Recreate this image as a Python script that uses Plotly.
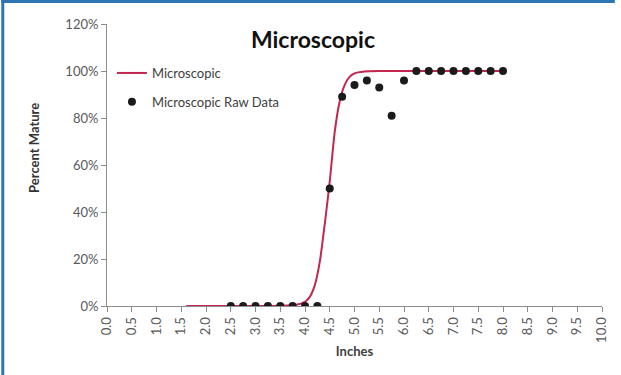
import plotly.graph_objects as go

# Fitted curve
curve_x = [1.6, 2.0, 2.5, 3.0, 3.5, 3.8, 4.0, 4.1, 4.2, 4.3, 4.4, 4.5, 4.6, 4.7, 4.8, 4.9, 5.0, 5.2, 5.5, 6.0, 7.0, 8.0]
curve_y = [0.0, 0.0, 0.0, 0.0, 0.001, 0.004, 0.018, 0.04, 0.09, 0.19, 0.35, 0.53, 0.74, 0.87, 0.94, 0.975, 0.99, 0.998, 1.0, 1.0, 1.0, 1.0]

# Raw data points
raw_x = [2.5, 2.75, 3.0, 3.25, 3.5, 3.75, 4.0, 4.25, 4.5, 4.75, 5.0, 5.25, 5.5, 5.75, 6.0,
         6.25, 6.5, 6.75, 7.0, 7.25, 7.5, 7.75, 8.0]
raw_y = [0, 0, 0, 0, 0, 0, 0, 0, 0.50, 0.89, 0.94, 0.96, 0.93, 0.81, 0.96,
         1.0, 1.0, 1.0, 1.0, 1.0, 1.0, 1.0, 1.0]

x_tickvals = [0.0, 0.5, 1.0, 1.5, 2.0, 2.5, 3.0, 3.5, 4.0, 4.5, 5.0, 5.5, 6.0, 6.5, 7.0, 7.5, 8.0, 8.5, 9.0, 9.5, 10.0]
x_ticktext = ["%.1f" % v for v in x_tickvals]
y_tickvals = [0, 0.2, 0.4, 0.6, 0.8, 1.0, 1.2]
y_ticktext = ["0%", "20%", "40%", "60%", "80%", "100%", "120%"]

FONT = "Lato, 'Open Sans', sans-serif"

fig = go.Figure()
fig.add_trace(go.Scatter(x=curve_x, y=curve_y, mode="lines", name="Microscopic",
                         line=dict(color="#C3264F", width=2, shape="spline", smoothing=0.6),
                         legendgroup="a"))
fig.add_trace(go.Scatter(x=raw_x, y=raw_y, mode="markers", name="Microscopic Raw Data",
                         marker=dict(color="#1B1B1B", size=8),
                         legendgroup="b"))

W, H = 621, 375
L, R, T, B = 107, 13, 24, 69
pw, ph = W - L - R, H - T - B

def px_to_paper_x(px):
    return (px - L) / pw

def px_to_paper_y(py):
    return (H - B - py) / ph

fig.update_layout(
    width=W, height=H,
    margin=dict(l=L, r=R, t=T, b=B),
    paper_bgcolor="white", plot_bgcolor="white",
    font=dict(family=FONT, color="#595959", size=13),
    title=dict(text="<b>Microscopic</b>", x=0.504, xref="container", xanchor="center",
               y=1 - 40 / H, yref="container", yanchor="middle",
               font=dict(size=23, color="#111111", family=FONT)),
    showlegend=True,
    legend=dict(x=px_to_paper_x(112), y=px_to_paper_y(58), xanchor="left", yanchor="top",
                bgcolor="rgba(0,0,0,0)", tracegroupgap=9,
                font=dict(size=13, color="#404040", family=FONT)),
    xaxis=dict(range=[0, 10], tickvals=x_tickvals, ticktext=x_ticktext, tickangle=-90,
               showgrid=False, zeroline=False, showline=True, linecolor="#8C8C8C", linewidth=1,
               ticks="outside", ticklen=5, tickcolor="#8C8C8C",
               tickfont=dict(size=13, color="#595959"),
               title=dict(text="<b>Inches</b>", font=dict(size=13, color="#404040"), standoff=4)),
    yaxis=dict(range=[0, 1.2], tickvals=y_tickvals, ticktext=y_ticktext,
               showgrid=False, zeroline=False, showline=True, linecolor="#8C8C8C", linewidth=1,
               ticks="outside", ticklen=5, tickcolor="#8C8C8C",
               tickfont=dict(size=13, color="#595959")),
    annotations=[dict(text="<b>Percent Mature</b>", textangle=-90, xref="paper", yref="paper",
                      x=px_to_paper_x(33), y=px_to_paper_y(148), xanchor="center", yanchor="middle",
                      showarrow=False, font=dict(size=13, color="#333333", family=FONT))],
    shapes=[
        dict(type="line", xref="paper", yref="paper", x0=px_to_paper_x(1.5), x1=px_to_paper_x(1.5),
             y0=px_to_paper_y(0), y1=px_to_paper_y(H), line=dict(color="#2E75B6", width=3)),
        dict(type="line", xref="paper", yref="paper", x0=px_to_paper_x(0), x1=px_to_paper_x(W),
             y0=px_to_paper_y(1.5), y1=px_to_paper_y(1.5), line=dict(color="#2E75B6", width=3)),
    ],
)

fig.write_html("out.html", config={"displayModeBar": False},
               post_script="document.body.style.margin='0';")
